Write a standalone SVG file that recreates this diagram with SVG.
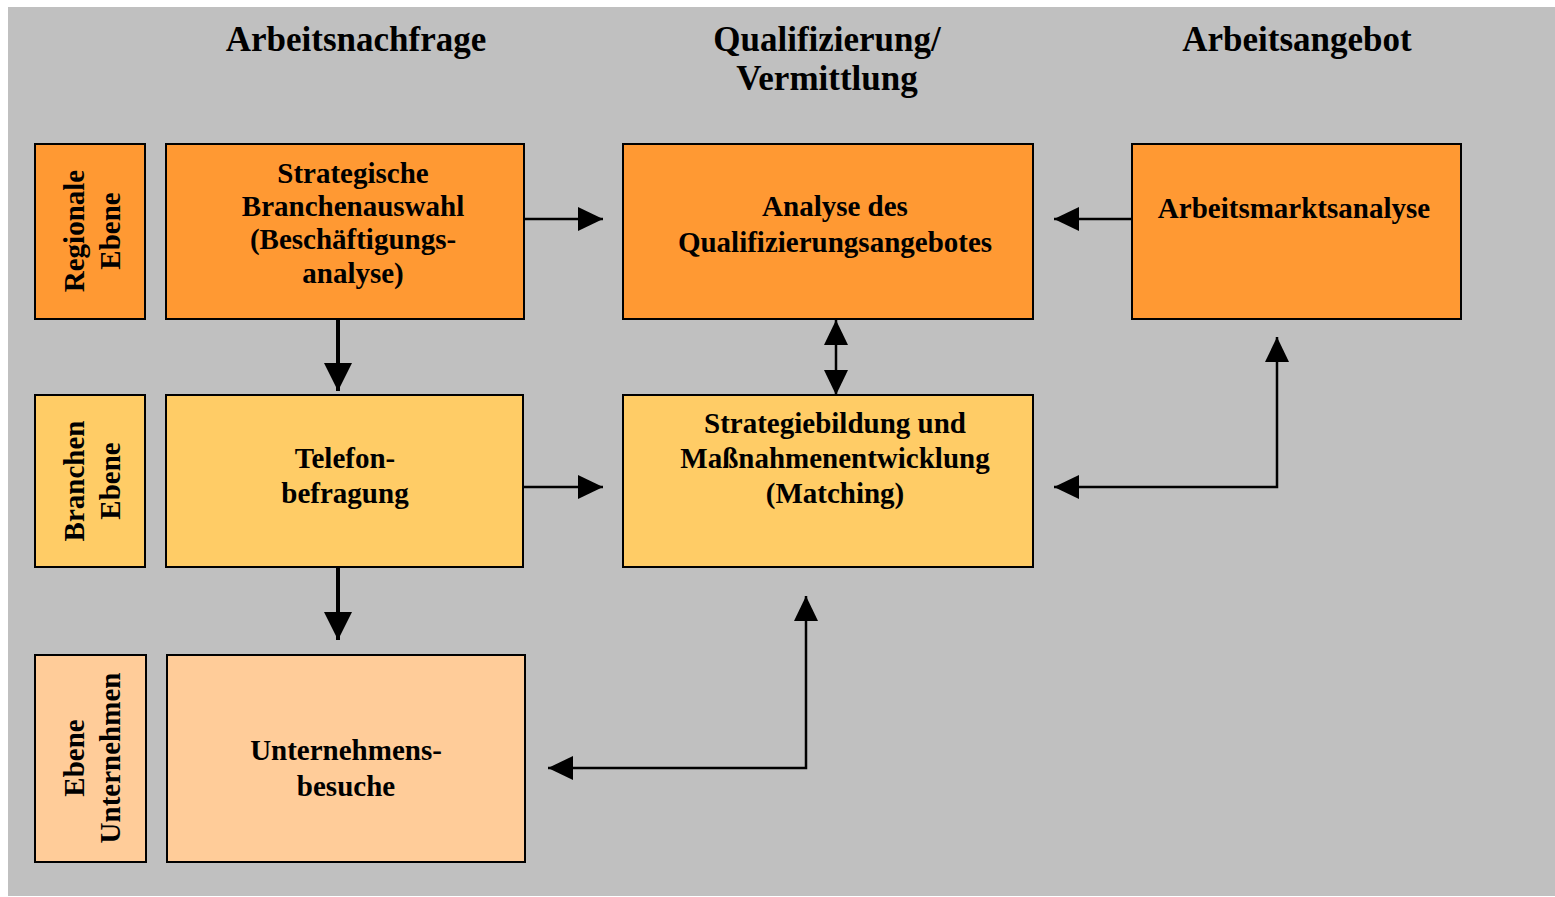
<svg xmlns="http://www.w3.org/2000/svg" width="1555" height="897" viewBox="0 0 1555 897">
<style>
.box{stroke:#000;stroke-width:2}
.o{fill:#FF9933}.y{fill:#FFCC66}.p{fill:#FFCC99}
text{font-family:"Liberation Serif","Times New Roman",serif;font-weight:bold;fill:#000;text-anchor:middle}
.h{font-size:35px}
.t{font-size:29px}
.c{fill:none;stroke:#000;stroke-width:2.5}
.ct{fill:none;stroke:#000;stroke-width:4}
</style>
<defs>
<marker id="ah" markerUnits="userSpaceOnUse" markerWidth="26" markerHeight="26" refX="25" refY="12" orient="auto-start-reverse" viewBox="0 0 26 26">
<path d="M0,0 L25,12 L0,24 Z" fill="#000"/>
</marker>
<marker id="ahb" markerUnits="userSpaceOnUse" markerWidth="30" markerHeight="30" refX="28" refY="14" orient="auto" viewBox="0 0 30 30">
<path d="M0,0 L28,14 L0,28 Z" fill="#000"/>
</marker>
</defs>
<rect x="8" y="7" width="1547" height="889" fill="#C0C0C0"/>
<g id="headers">
<text class="h" x="356" y="51">Arbeitsnachfrage</text>
<text class="h" x="827" y="51">Qualifizierung/</text>
<text class="h" x="827" y="90">Vermittlung</text>
<text class="h" x="1297" y="51">Arbeitsangebot</text>
</g>
<g id="regionale-ebene">
<rect class="box o" x="35" y="144" width="110" height="175"/>
<text class="t" transform="translate(84,231) rotate(-90)">Regionale</text>
<text class="t" transform="translate(120,231) rotate(-90)">Ebene</text>
</g>
<g id="branchen-ebene">
<rect class="box y" x="35" y="395" width="110" height="172"/>
<text class="t" transform="translate(84,481) rotate(-90)">Branchen</text>
<text class="t" transform="translate(120,481) rotate(-90)">Ebene</text>
</g>
<g id="ebene-unternehmen">
<rect class="box p" x="35" y="655" width="111" height="207"/>
<text class="t" transform="translate(84,758) rotate(-90)">Ebene</text>
<text class="t" transform="translate(120,758) rotate(-90)">Unternehmen</text>
</g>
<g id="strategische-branchenauswahl">
<rect class="box o" x="166" y="144" width="358" height="175"/>
<text class="t" x="353" y="183">Strategische</text>
<text class="t" x="353" y="216">Branchenauswahl</text>
<text class="t" x="353" y="249">(Beschäftigungs-</text>
<text class="t" x="353" y="283">analyse)</text>
</g>
<g id="analyse">
<rect class="box o" x="623" y="144" width="410" height="175"/>
<text class="t" x="835" y="216">Analyse des</text>
<text class="t" x="835" y="252">Qualifizierungsangebotes</text>
</g>
<g id="arbeitsmarktsanalyse">
<rect class="box o" x="1132" y="144" width="329" height="175"/>
<text class="t" x="1294" y="218">Arbeitsmarktsanalyse</text>
</g>
<g id="telefonbefragung">
<rect class="box y" x="166" y="395" width="357" height="172"/>
<text class="t" x="345" y="468">Telefon-</text>
<text class="t" x="345" y="503">befragung</text>
</g>
<g id="strategiebildung">
<rect class="box y" x="623" y="395" width="410" height="172"/>
<text class="t" x="835" y="433">Strategiebildung und</text>
<text class="t" x="835" y="468">Maßnahmenentwicklung</text>
<text class="t" x="835" y="503">(Matching)</text>
</g>
<g id="unternehmensbesuche">
<rect class="box p" x="167" y="655" width="358" height="207"/>
<text class="t" x="346" y="760">Unternehmens-</text>
<text class="t" x="346" y="796">besuche</text>
</g>
<g id="connectors">
<path class="c" d="M524,219 H603" marker-end="url(#ah)"/>
<path class="c" d="M1132,219 H1054" marker-end="url(#ah)"/>
<path class="c" d="M836,320 V395" marker-start="url(#ah)" marker-end="url(#ah)"/>
<path class="ct" d="M338,319 V391" marker-end="url(#ahb)"/>
<path class="c" d="M524,487 H603" marker-end="url(#ah)"/>
<path class="ct" d="M338,567 V640" marker-end="url(#ahb)"/>
<path class="c" d="M1054,487 H1277 V337" marker-start="url(#ah)" marker-end="url(#ah)"/>
<path class="c" d="M548,768 H806 V596" marker-start="url(#ah)" marker-end="url(#ah)"/>
</g>
</svg>
